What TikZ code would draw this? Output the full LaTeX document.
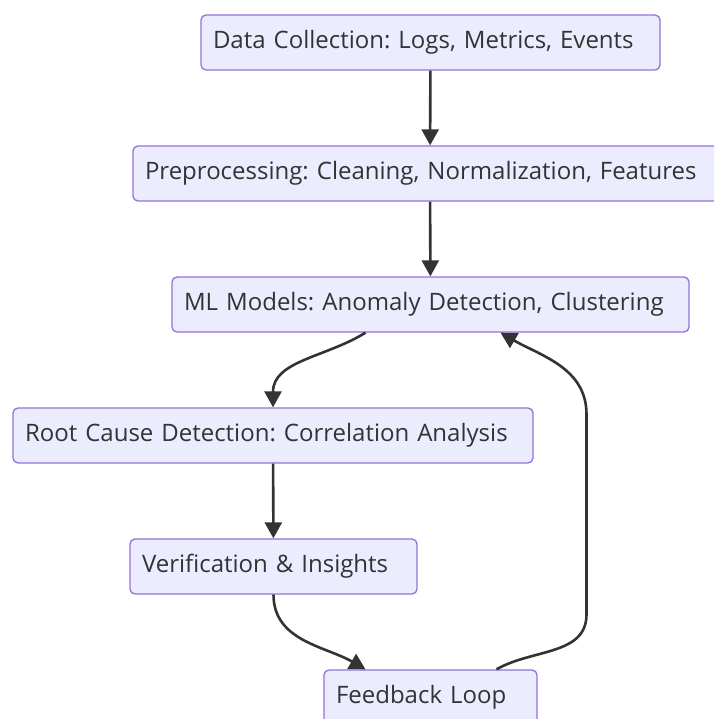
\documentclass[tikz,border=0pt]{standalone}
\usepackage{fontspec}
\setmainfont{Open Sans}
\usetikzlibrary{
  arrows.meta
}
\definecolor{boxfill}{HTML}{ECECFF}
\definecolor{boxline}{HTML}{9370DB}
\definecolor{ink}{HTML}{333333}
\frenchspacing

\begin{document}
\begin{tikzpicture}[
    x=1pt,
    y=1pt,
    stage/.style={
      draw=boxline,
      fill=boxfill,
      line width=1.3pt,
      rounded corners=5pt,
      text=ink,
      font=\fontsize{24}{28}\selectfont,
      minimum height=55pt,
      inner xsep=12pt,
      inner ysep=0pt,
      align=left
    },
    flow/.style={
      draw=ink,
      line width=2.6pt,
      -{Triangle[length=16pt,width=17pt]}
    }
  ]
  \clip (0,0) rectangle (714,719);
  \node[stage,text width=435pt] (dc) at (430.5,676.5) {Data Collection: Logs, Metrics, Events};
  \node[stage,text width=570pt] (pp) at (430,545.5) {Preprocessing: Cleaning, Normalization, Features};
  \node[stage,text width=493pt] (ml) at (430.5,414.5) {ML Models: Anomaly Detection, Clustering};
  \node[stage,text width=496pt] (rc) at (273,283.5) {Root Cause Detection: Correlation Analysis};
  \node[stage,text width=263pt] (vi) at (273.5,152.5) {Verification \& Insights};
  \node[stage,text width=189pt] (fb) at (430.5,21.5) {Feedback Loop};

  \draw[flow] (dc) -- (pp);
  \draw[flow] (pp) -- (ml);
  \draw[flow] ([xshift=-65pt]ml.south) to[out=-148,in=90] (rc.north);
  \draw[flow] (rc) -- (vi);
  \draw[flow] (vi.south) to[out=-90,in=150] ([xshift=-65pt]fb.north);
  \draw[flow] ([xshift=66pt]fb.north) to[out=30,in=-90] ++(90,55)
    -- ++(0,200) to[out=90,in=-30] ([xshift=70pt]ml.south);
\end{tikzpicture}
\end{document}
